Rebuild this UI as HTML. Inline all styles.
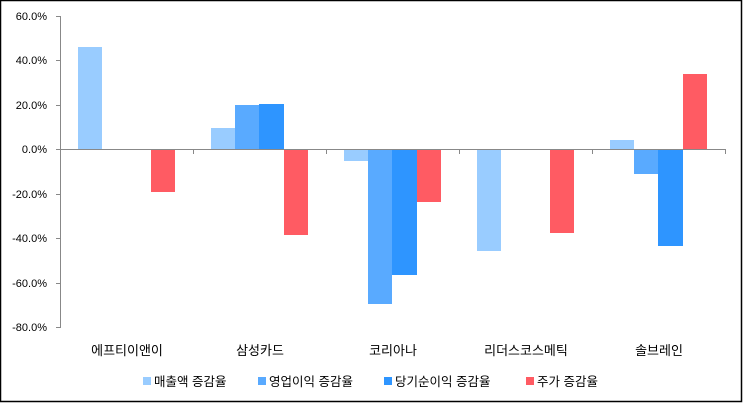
<!DOCTYPE html>
<html><head><meta charset="utf-8"><style>
html,body{margin:0;padding:0;background:#fff}
svg text{font-family:"Liberation Sans","Noto Sans CJK KR","NanumGothic",sans-serif}
</style></head><body>
<svg width="743" height="403" xmlns="http://www.w3.org/2000/svg">
<rect x="0.5" y="0.5" width="741" height="401" fill="#fff" stroke="#000" stroke-width="1.5"/>
<g font-size="11" fill="#000" text-anchor="end">
<text x="47" y="20">60.0%</text>
<text x="47" y="64">40.0%</text>
<text x="47" y="109">20.0%</text>
<text x="47" y="153">0.0%</text>
<text x="47" y="198">-20.0%</text>
<text x="47" y="242">-40.0%</text>
<text x="47" y="287">-60.0%</text>
<text x="47" y="331">-80.0%</text>
</g>
<g stroke="#888" stroke-width="1">
<line x1="60.5" y1="16" x2="60.5" y2="328"/>
<line x1="56" y1="16.5" x2="60" y2="16.5"/><line x1="56" y1="60.5" x2="60" y2="60.5"/>
<line x1="56" y1="105.5" x2="60" y2="105.5"/><line x1="56" y1="149.5" x2="60" y2="149.5"/>
<line x1="56" y1="194.5" x2="60" y2="194.5"/><line x1="56" y1="238.5" x2="60" y2="238.5"/>
<line x1="56" y1="283.5" x2="60" y2="283.5"/><line x1="56" y1="327.5" x2="60" y2="327.5"/>
<line x1="60" y1="149.5" x2="726" y2="149.5"/>
<line x1="193.5" y1="149" x2="193.5" y2="154"/><line x1="326.5" y1="149" x2="326.5" y2="154"/>
<line x1="459.5" y1="149" x2="459.5" y2="154"/><line x1="592.5" y1="149" x2="592.5" y2="154"/>
<line x1="725.5" y1="149" x2="725.5" y2="154"/>
</g>
<rect x="78" y="47" width="24" height="102" fill="#99CCFF"/>
<rect x="151" y="150" width="24" height="42" fill="#FF5B63"/>
<rect x="211" y="128" width="24" height="21" fill="#99CCFF"/>
<rect x="235" y="105" width="24" height="44" fill="#59AAFF"/>
<rect x="259" y="104" width="25" height="45" fill="#2E95FF"/>
<rect x="284" y="150" width="24" height="85" fill="#FF5B63"/>
<rect x="344" y="150" width="24" height="11" fill="#99CCFF"/>
<rect x="368" y="150" width="24" height="154" fill="#59AAFF"/>
<rect x="392" y="150" width="25" height="125" fill="#2E95FF"/>
<rect x="417" y="150" width="24" height="52" fill="#FF5B63"/>
<rect x="477" y="150" width="24" height="101" fill="#99CCFF"/>
<rect x="550" y="150" width="24" height="83" fill="#FF5B63"/>
<rect x="610" y="140" width="24" height="9" fill="#99CCFF"/>
<rect x="634" y="150" width="24" height="24" fill="#59AAFF"/>
<rect x="658" y="150" width="25" height="96" fill="#2E95FF"/>
<rect x="683" y="74" width="24" height="75" fill="#FF5B63"/>
<g font-size="13" fill="#000" text-anchor="middle">
<text x="127" y="355">에프티이앤이</text>
<text x="260" y="355">삼성카드</text>
<text x="393" y="355">코리아나</text>
<text x="526" y="355">리더스코스메틱</text>
<text x="659" y="355">솔브레인</text>
</g>
<g font-size="12.5" fill="#000">
<rect x="143" y="377" width="8" height="8" fill="#99CCFF"/><text x="154" y="386">매출액 증감율</text>
<rect x="258" y="377" width="8" height="8" fill="#59AAFF"/><text x="269" y="386">영업이익 증감율</text>
<rect x="384" y="377" width="8" height="8" fill="#2E95FF"/><text x="395" y="386">당기순이익 증감율</text>
<rect x="526" y="377" width="8" height="8" fill="#FF5B63"/><text x="537" y="386">주가 증감율</text>
</g>
</svg>
</body></html>
